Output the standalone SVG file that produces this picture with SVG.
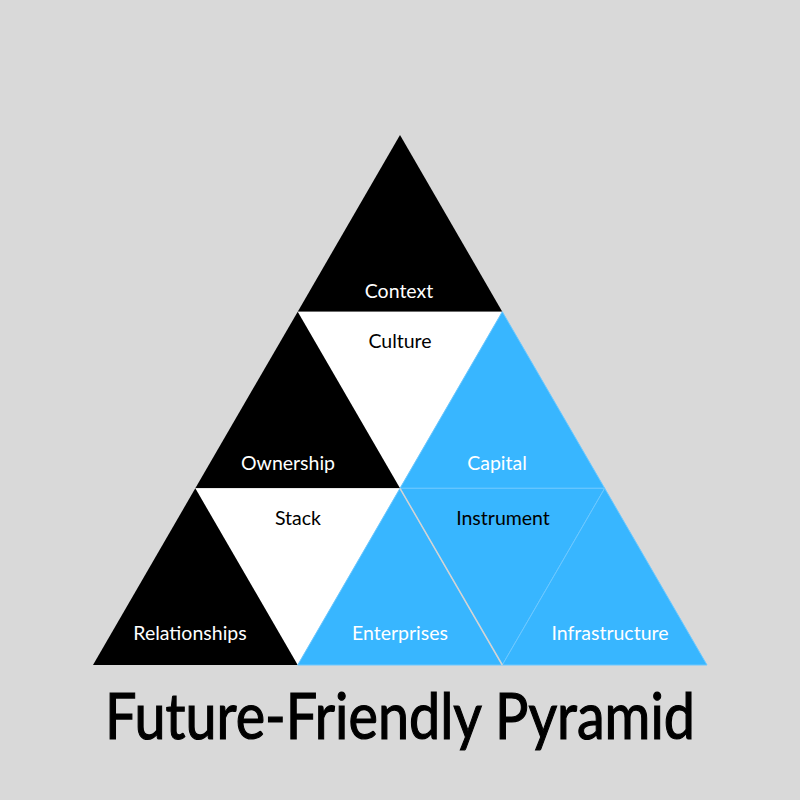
<svg xmlns="http://www.w3.org/2000/svg" width="800" height="800" viewBox="0 0 800 800">
<style>
.blk{fill:#000000}
.wht{fill:#ffffff}
.blu{fill:#38b6ff;stroke:#6cc8ff;stroke-width:1}
.lbl{font-family:Lato,"Open Sans","Liberation Sans",sans-serif;font-size:19.5px;text-anchor:middle}
.lw{fill:#ffffff}
.lb{fill:#000000}
.title{font-family:Lato,"Open Sans","Liberation Sans",sans-serif;font-size:64px;fill:#000000;stroke:#000000;stroke-width:1.2;text-anchor:middle}
</style>
<rect width="800" height="800" fill="#d9d9d9"/>
<g id="context"><polygon class="blk" points="400,135 502.3,311.7 297.7,311.7"/><text class="lbl lw" x="399" y="298">Context</text></g>
<g id="culture"><polygon class="wht" points="297.7,311.7 502.3,311.7 400,488.3"/><text class="lbl lb" x="400" y="348">Culture</text></g>
<g id="ownership"><polygon class="blk" points="297.7,311.7 400,488.3 195.3,488.3"/><text class="lbl lw" x="288" y="470">Ownership</text></g>
<g id="capital"><polygon class="blu" points="502.3,311.7 604.7,488.3 400,488.3"/><text class="lbl lw" x="497" y="470">Capital</text></g>
<g id="stack"><polygon class="wht" points="195.3,488.3 400,488.3 297.7,665"/><text class="lbl lb" x="298" y="525">Stack</text></g>
<g id="relationships"><polygon class="blk" points="195.3,488.3 297.7,665 93,665"/><text class="lbl lw" x="190" y="640">Relationships</text></g>
<g id="enterprises"><polygon class="blu" points="400,488.3 502.3,665 297.7,665"/><text class="lbl lw" x="400" y="640">Enterprises</text></g>
<g id="instrument"><polygon class="blu" points="400,488.3 604.7,488.3 502.3,665"/><text class="lbl lb" x="503" y="525">Instrument</text></g>
<g id="infrastructure"><polygon class="blu" points="604.7,488.3 707,665 502.3,665"/><text class="lbl lw" x="610" y="640">Infrastructure</text></g>
<g id="connectors"><line x1="400" y1="488.3" x2="502.3" y2="665" stroke="#d4d4d4" stroke-width="1.5"/></g>
<text class="title" x="400" y="739" textLength="590" lengthAdjust="spacingAndGlyphs">Future-Friendly Pyramid</text>
</svg>
